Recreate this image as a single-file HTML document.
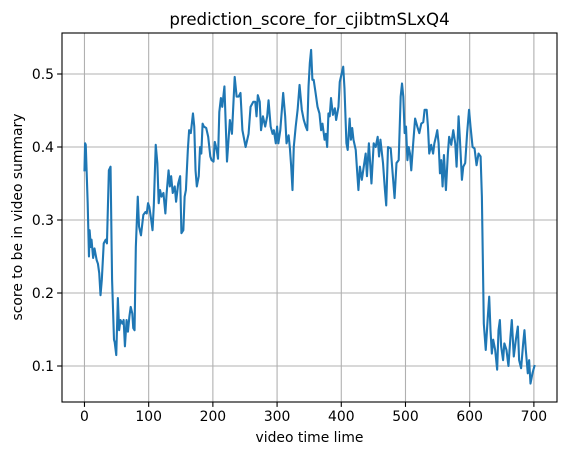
<!DOCTYPE html>
<html><head><meta charset="utf-8"><style>
body{margin:0;background:#fff}
svg{display:block;font-family:"DejaVu Sans","Liberation Sans",sans-serif}
</style></head><body>
<svg id="chart" width="567" height="455" viewBox="0 0 567 455">
<rect x="0" y="0" width="567" height="455" fill="#fff"/>
<g id="grid"></g>
<g id="ticks"></g>
<path id="line" fill="none" stroke="#1f77b4" stroke-width="2.1" stroke-linejoin="round" stroke-linecap="square"/>
<rect x="62" y="33" width="495" height="369" fill="none" stroke="#000" stroke-width="1.1"/>
<text x="309.5" y="25" text-anchor="middle" font-size="16.6">prediction_score_for_cjibtmSLxQ4</text>
<text x="309.5" y="442" text-anchor="middle" font-size="13.9">video time lime</text>
<text transform="translate(22,217) rotate(-90)" text-anchor="middle" font-size="13.9">score to be in video summary</text>
</svg>
<script>
const xTicks=[0,100,200,300,400,500,600,700];
const yTicks=[0.1,0.2,0.3,0.4,0.5];
const yTickLabels=["0.1","0.2","0.3","0.4","0.5"];
const frames=[0,1,2,5,7,8,10,11,13.5,15.6,19,21,23,25,27,30,33,35,38,40.6,43,46,47,49.5,52,54,56,59,61,63,65.6,67.7,70,72,74.5,76,78,80,83,85,88,91.7,95,97,99,101,104,106,108,111,113.5,115.6,117.7,120,123,126,128,131,133,135,137.5,140.6,142.7,146,149,151,154,156,158,161,163,165.6,169,171,173,175,178,180,182,184,186,189.6,192.7,196,198,201,203,206,208,210,212.5,214.6,218,222,226.5,229.7,234,237,240,243,246,251,255.6,258.7,263,266,268,270,273,275,278,281.5,284.6,286.7,290,293,295,298,300,302,305,309.5,312.6,314.7,318,320,322,324,326,329,332,335,338.5,341.6,344.7,347,349,351,353,355,357,360,363,366,368.6,370.7,374,376,378,380,382,384,387,390,392,395.6,397.6,400.7,403,405,408,410,413,415,417,419,422.5,424.6,426.7,429,432,435,438,440,443,447,450.5,453.6,456.7,458.8,461,465,468,470,472.8,477,480,483,486,489.4,492.5,494.6,496.6,498.7,500.8,503,505,507,509,512,515,518.4,521.5,524.6,527.7,529.8,533,535,537,540,543,545,547.4,549.5,551.6,553.7,555.7,557.8,559.9,563,566,568,571.3,574.4,577.5,579.6,582.7,584.8,587.9,590,593,596,599,601.3,604.5,607.6,610.7,613.8,617,619,622,625,628.3,630.4,632.4,634.5,636.6,639.7,642.8,644.9,647,649,652,654,657.3,660.4,663.5,665.6,668.7,671.9,675,677,680.1,683.3,685.3,687.4,690.5,692.6,694.7,697.8,700.9];
const scores=[0.368,0.405,0.403,0.323,0.25,0.286,0.263,0.273,0.248,0.261,0.245,0.24,0.227,0.197,0.218,0.268,0.273,0.268,0.368,0.373,0.218,0.136,0.133,0.115,0.193,0.149,0.163,0.158,0.163,0.127,0.163,0.147,0.168,0.181,0.172,0.152,0.149,0.263,0.332,0.291,0.279,0.307,0.311,0.309,0.323,0.318,0.3,0.286,0.32,0.403,0.378,0.323,0.341,0.332,0.337,0.309,0.337,0.368,0.346,0.36,0.337,0.346,0.325,0.35,0.36,0.282,0.286,0.332,0.341,0.396,0.423,0.419,0.446,0.428,0.368,0.346,0.36,0.4,0.391,0.432,0.428,0.426,0.414,0.387,0.382,0.38,0.407,0.396,0.384,0.448,0.467,0.455,0.483,0.38,0.437,0.418,0.496,0.469,0.469,0.474,0.423,0.4,0.418,0.455,0.462,0.462,0.442,0.471,0.462,0.423,0.442,0.428,0.442,0.464,0.428,0.418,0.423,0.405,0.428,0.405,0.423,0.474,0.442,0.405,0.416,0.398,0.373,0.341,0.4,0.428,0.451,0.485,0.451,0.437,0.428,0.423,0.483,0.515,0.533,0.492,0.492,0.474,0.455,0.446,0.423,0.432,0.41,0.418,0.4,0.446,0.442,0.467,0.444,0.453,0.437,0.455,0.489,0.501,0.51,0.48,0.405,0.396,0.439,0.41,0.426,0.41,0.396,0.368,0.341,0.373,0.355,0.373,0.391,0.36,0.405,0.35,0.405,0.4,0.414,0.387,0.41,0.378,0.341,0.32,0.4,0.398,0.364,0.33,0.378,0.382,0.469,0.487,0.469,0.419,0.428,0.382,0.4,0.391,0.368,0.405,0.439,0.428,0.419,0.432,0.434,0.451,0.451,0.428,0.391,0.403,0.391,0.405,0.414,0.423,0.405,0.364,0.382,0.346,0.389,0.341,0.391,0.414,0.403,0.423,0.405,0.373,0.442,0.41,0.355,0.373,0.378,0.419,0.451,0.428,0.4,0.398,0.375,0.391,0.387,0.332,0.158,0.122,0.168,0.195,0.149,0.117,0.136,0.122,0.095,0.149,0.163,0.127,0.108,0.131,0.122,0.1,0.14,0.163,0.113,0.136,0.154,0.108,0.097,0.131,0.149,0.122,0.09,0.108,0.076,0.09,0.1];
const L=62,R=557,T=33,B=402,XMIN=-35,XMAX=736;
function sx(v){return L+(v-XMIN)/(XMAX-XMIN)*(R-L);}
function sy(v){return 74+(0.5-v)*730;}
const NS="http://www.w3.org/2000/svg";
const grid=document.getElementById('grid'),ticks=document.getElementById('ticks');
function mk(tag,attrs,parent){const e=document.createElementNS(NS,tag);for(const k in attrs)e.setAttribute(k,attrs[k]);parent.appendChild(e);return e;}
xTicks.forEach(v=>{const x=sx(v);
 const g=mk('line',{x1:x,x2:x,y1:T,y2:B,stroke:'#b0b0b0','stroke-width':1.1},grid);
 
 
 const t=mk('line',{x1:x,x2:x,y1:B,y2:B+4.9,stroke:'#000','stroke-width':1.1},ticks);
 
 
 const l=mk('text',{x:x,y:B+19,'text-anchor':'middle','font-size':13.9},ticks);l.textContent=String(v);
 
 
});
yTicks.forEach((v,i)=>{const y=sy(v);
 const g=mk('line',{x1:L,x2:R,y1:y,y2:y,stroke:'#b0b0b0','stroke-width':1.1},grid);
 
 
 const t=mk('line',{x1:L-4.9,x2:L,y1:y,y2:y,stroke:'#000','stroke-width':1.1},ticks);
 
 
 const l=mk('text',{x:L-8,y:y+5,'text-anchor':'end','font-size':13.9},ticks);l.textContent=yTickLabels[i];
 
 
});
document.getElementById('line').setAttribute('d',frames.map((f,i)=>(i?'L':'M')+sx(f).toFixed(2)+' '+sy(scores[i]).toFixed(2)).join(' '));
</script>
</body></html>
